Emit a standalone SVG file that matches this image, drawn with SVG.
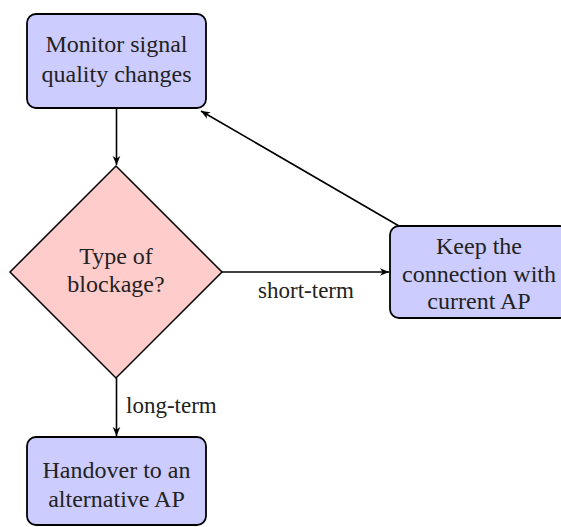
<svg xmlns="http://www.w3.org/2000/svg" width="561" height="527" viewBox="0 0 561 527">
<defs>
<marker id="arr" viewBox="-10 -5 12 10" refX="0" refY="0" markerWidth="12" markerHeight="10" markerUnits="userSpaceOnUse" orient="auto">
<path d="M0,0 L-9,-3.8 L-6.5,0 L-9,3.8 Z" fill="#000"/>
</marker>
</defs>
<style>
.box{fill:#ccccff;stroke:#000;stroke-width:1.8}
.dec{fill:#ffcccc;stroke:#000;stroke-width:1.5}
.c{fill:none;stroke:#000;stroke-width:1.6;marker-end:url(#arr)}
</style>
<g id="monitor">
<rect class="box" x="27" y="14" width="179" height="94" rx="9"/>
<text style="font-family:'Liberation Serif',serif;font-size:24px" fill="#222" text-anchor="middle" x="116.5" y="52">Monitor signal</text>
<text style="font-family:'Liberation Serif',serif;font-size:24px" fill="#222" text-anchor="middle" x="116.5" y="82">quality changes</text>
</g>
<g id="decision">
<polygon class="dec" points="116,166 222,272 116,378 10,272"/>
<text style="font-family:'Liberation Serif',serif;font-size:24px" fill="#222" text-anchor="middle" x="116" y="264">Type of</text>
<text style="font-family:'Liberation Serif',serif;font-size:24px" fill="#222" text-anchor="middle" x="116" y="292">blockage?</text>
</g>
<g id="keep">
<rect class="box" x="390" y="226" width="179" height="92" rx="9"/>
<text style="font-family:'Liberation Serif',serif;font-size:24px" fill="#222" text-anchor="middle" x="479" y="254">Keep the</text>
<text style="font-family:'Liberation Serif',serif;font-size:24px" fill="#222" text-anchor="middle" x="479" y="282">connection with</text>
<text style="font-family:'Liberation Serif',serif;font-size:24px" fill="#222" text-anchor="middle" x="479" y="309">current AP</text>
</g>
<g id="handover">
<rect class="box" x="27" y="437" width="179" height="88" rx="9"/>
<text style="font-family:'Liberation Serif',serif;font-size:24px" fill="#222" text-anchor="middle" x="116.5" y="478">Handover to an</text>
<text style="font-family:'Liberation Serif',serif;font-size:24px" fill="#222" text-anchor="middle" x="116.5" y="507">alternative AP</text>
</g>
<g id="connectors">
<line class="c" x1="116.5" y1="108" x2="116.5" y2="165"/>
<line class="c" x1="222" y1="272" x2="389" y2="272"/>
<text style="font-family:'Liberation Serif',serif;font-size:23px" fill="#222" x="306" y="298" text-anchor="middle">short-term</text>
<line class="c" x1="399" y1="226" x2="201" y2="111"/>
<line class="c" x1="116.5" y1="378" x2="116.5" y2="436"/>
<text style="font-family:'Liberation Serif',serif;font-size:23px" fill="#222" x="126" y="413">long-term</text>
</g>
</svg>
